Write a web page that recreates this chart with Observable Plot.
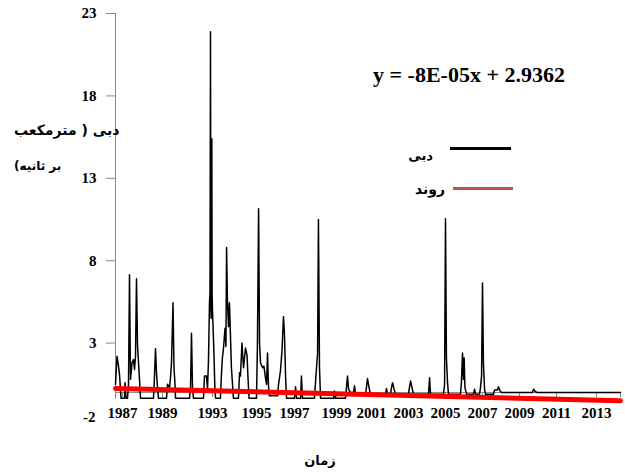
<!DOCTYPE html>
<html><head><meta charset="utf-8">
<script src="https://cdn.jsdelivr.net/npm/d3@7"></script>
<script src="https://cdn.jsdelivr.net/npm/@observablehq/plot@0.6"></script>
<style>
body{margin:0;background:#fff;}
#wrap{position:relative;width:625px;height:472px;}
.lbl{position:absolute;white-space:nowrap;font-weight:bold;color:#000;}
.ar{font-family:"DejaVu Sans",sans-serif;direction:rtl;}
.sw{position:absolute;}
</style></head><body><div id="wrap"></div>
<script>
// Discharge series (decimal year, m3/s)
const years = [1986.65,1986.725,1986.8,1986.85,1986.9,1986.925,1987.1,1987.125,1987.175,1987.25,1987.3,1987.35,1987.4,1987.475,1987.55,1987.6,1987.65,1987.7,1987.75,1987.8,1987.85,1987.9,
1988.55,1988.6,1988.65,1988.7,1988.75,1988.8,
1989.32,1989.4,1989.56,1989.64,1989.72,1989.84,1989.92,1990.0,1990.04,
1991.16,1991.24,1991.32,1991.4,1991.48,
1992.28,1992.36,1992.52,1992.6,1992.68,1992.76,1992.8,1992.84,1992.87,1992.896,1992.92,1992.944,1992.97,1993.0,1993.03,1993.07,1993.11,1993.14,
1993.36,1993.41,1993.45,1993.5,1993.57,1993.61,1993.64,1993.68,1993.73,1993.77,1993.82,1993.86,1993.91,1993.95,
1994.18,1994.23,1994.27,1994.34,1994.41,1994.5,1994.57,1994.61,1994.66,
1995.0,1995.05,1995.11,1995.16,1995.21,1995.32,1995.39,1995.47,1995.53,1995.58,1995.63,1995.68,
1996.11,1996.16,1996.26,1996.34,1996.42,1996.47,1996.53,1996.58,
1997.0,1997.05,1997.1,1997.29,1997.33,1997.38,
1997.95,1998.02,1998.1,1998.14,1998.19,1998.24,
1998.86,1998.9,1998.95,
1999.51,1999.57,1999.63,1999.69,1999.8,1999.97,2000.03,2000.09,
2000.66,2000.71,2000.77,2000.86,2000.94,
2001.76,2001.81,2001.86,2002.03,2002.08,2002.14,2002.22,2002.3,
2003.0,2003.05,2003.11,2003.19,2003.27,
2004.08,2004.14,2004.19,
2004.89,2004.95,2005.0,2005.05,2005.11,2005.16,
2005.81,2005.86,2005.92,2005.97,2006.01,2006.05,2006.14,
2006.51,2006.57,2006.62,2006.84,2006.89,2006.95,2007.0,2007.05,2007.11,2007.16,
2007.59,2007.65,2007.81,2007.86,2007.95,2008.03,
2009.7,2009.76,2009.86,2009.97,2014.2];
const discharge = [0.5,2.2,1.6,1.1,0.2,-0.35,-0.35,0.6,-0.35,-0.35,0.5,7.15,0.8,1.8,2.0,1.4,2.2,6.9,2.9,1.8,0.8,-0.35,
-0.35,1.0,2.65,1.2,0.3,-0.35,
-0.35,0.5,0.3,0.9,1.8,5.45,1.5,0.5,-0.35,
-0.35,0.2,3.6,0.3,-0.35,
-0.35,1.0,1.0,0.2,2.0,5.5,6.0,21.9,5.0,4.5,9.0,15.4,6.0,5.0,3.8,2.2,0.1,-0.35,
-0.35,1.2,2.1,2.7,3.9,2.8,8.8,5.5,4.0,5.45,3.3,1.5,0.5,-0.35,
-0.35,1.2,1.0,3.0,1.5,2.7,2.25,1.0,-0.35,
-0.35,3.0,11.15,3.0,1.8,1.5,1.6,0.9,0.5,2.4,0.4,-0.2,
-0.2,0.5,1.3,2.5,4.6,3.6,1.0,-0.35,
-0.35,0.35,-0.35,-0.35,1.0,-0.35,
-0.35,1.0,2.4,10.5,1.5,-0.35,
-0.35,0.1,-0.35,
-0.35,0.3,1.0,0.2,0.0,0.0,0.4,-0.1,
-0.1,0.3,0.85,0.3,-0.1,
-0.1,0.25,-0.1,-0.1,0.3,0.6,0.2,-0.1,
-0.1,0.3,0.7,0.3,-0.1,
-0.1,0.9,-0.1,
-0.1,0.5,10.55,2.1,0.6,-0.1,
-0.1,0.6,2.4,0.8,2.1,0.3,-0.1,
-0.1,0.2,-0.1,-0.1,0.3,1.0,6.65,1.8,0.2,-0.1,
-0.1,0.15,0.15,0.35,0.1,0.0,
0.0,0.2,0.05,0.0,0.0];

// Linear trend (endpoints)
const trendYears = [1986.65, 2014.2];
const trendValues = [0.25, -0.5];

// Axis tick labels
const xTickYears = [1987,1989,1993,1995,1997,1999,2001,2003,2005,2007,2009,2011,2013];
const yTicks = [-2,3,8,13,18,23];

// Texts
const equation = "y = -8E-05x + 2.9362";
const legendLabels = ["دبی","روند"];
const yTitleLines = ["دبی ( مترمکعب","بر ثانیه)"];
const xTitle = "زمان";

const series = years.map((t,i)=>({t, q: discharge[i]}));
const trend = trendYears.map((t,i)=>({t, q: trendValues[i]}));
const xMin = years[0], xMax = years[years.length-1];
const axisGray = "#8a8a8a";

// The original time axis is irregular (category-like); warp years onto axis positions
const warp = d3.scaleLinear()
  .domain([xMin, ...xTickYears, xMax])
  .range([0, 7, 47, 97, 141, 179, 221, 256, 293, 330, 367, 404, 441, 481, 505]);

const chart = Plot.plot({
  width: 625, height: 472,
  marginTop: 13, marginBottom: 47, marginLeft: 115, marginRight: 5,
  style: {fontFamily: '"Liberation Serif", serif', fontWeight: "bold", fontSize: "15px", background: "transparent", color: "#000"},
  x: {transform: warp, domain: [0, 505], axis: null},
  y: {domain: [-2, 23], label: null},
  marks: [
    Plot.axisY({ticks: yTicks.filter(v => v >= 3), tickSize: 9, tickPadding: 10, tickFormat: d => String(d), label: null, stroke: axisGray}),
    Plot.axisY({ticks: yTicks.filter(v => v < 3), tickSize: 0, tickPadding: 20, dy: -8, tickFormat: d => String(d), label: null}),
    Plot.ruleX([xMin], {y1: -0.4, y2: 23, stroke: axisGray}),
    Plot.ruleY([0], {x1: xMin, x2: xMax, stroke: axisGray}),
    Plot.ruleX([...xTickYears, xMax], {x: d => d, y1: 0, y2: -0.32, stroke: axisGray}),
    Plot.text(xTickYears, {x: d => d, y: -1.25, text: d => String(d), fontSize: 15, fontWeight: "bold", fill: "#000"}),
    Plot.line(series, {x: "t", y: "q", stroke: "#000", strokeWidth: 1.5}),
    Plot.line(trend, {x: "t", y: "q", stroke: "#ff0000", strokeWidth: 5})
  ]
});

const wrap = document.getElementById("wrap");
wrap.appendChild(chart);
chart.style.position = "absolute"; chart.style.left = "0"; chart.style.top = "0";

function addLabel(text, css, cls) {
  const d = document.createElement("div");
  d.className = "lbl " + (cls || "");
  d.textContent = text;
  Object.assign(d.style, css);
  wrap.appendChild(d);
  return d;
}
function addSwatch(css) {
  const d = document.createElement("div");
  d.className = "sw";
  Object.assign(d.style, css);
  wrap.appendChild(d);
}
// equation
addLabel(equation, {left: "469px", top: "63px", transform: "translateX(-50%)", fontFamily: '"Liberation Serif", serif', fontSize: "22px", lineHeight: "24px"});
// legend
addLabel(legendLabels[0], {right: (625-433)+"px", top: "146px", fontSize: "13px", lineHeight: "20px"}, "ar");
addSwatch({left: "450px", top: "147px", width: "61px", height: "3px", background: "#000"});
addLabel(legendLabels[1], {right: (625-445)+"px", top: "179px", fontSize: "14px", lineHeight: "20px"}, "ar");
addSwatch({left: "453px", top: "187px", width: "60px", height: "3px", background: "#c0504d"});
// y title
addLabel(yTitleLines[0], {left: "14px", top: "120px", fontSize: "14px", lineHeight: "20px"}, "ar");
addLabel(yTitleLines[1], {left: "14px", top: "156px", fontSize: "12px", lineHeight: "20px"}, "ar");
// x title
addLabel(xTitle, {left: "320px", top: "451px", transform: "translateX(-50%)", fontSize: "13px", lineHeight: "20px"}, "ar");
</script>
</body></html>
